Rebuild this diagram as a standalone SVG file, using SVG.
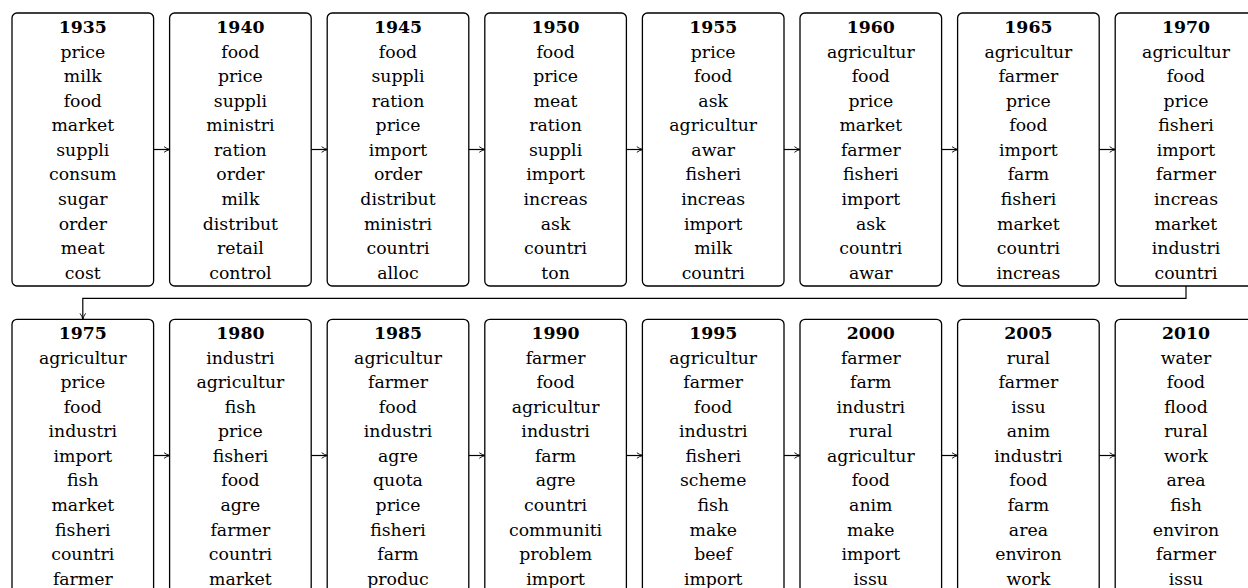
<svg xmlns="http://www.w3.org/2000/svg" width="1248" height="588" viewBox="0 0 1248 588">
<style>
.box{fill:#fff;stroke:#000;stroke-width:1.3}
.t{font-family:'DejaVu Serif',serif;font-size:17.3px;fill:#000;text-anchor:middle}
.h{font-weight:bold}
.c{fill:none;stroke:#000;stroke-width:1.2;marker-end:url(#ah)}
</style>
<defs>
<marker id="ah" viewBox="0 0 10 10" refX="9.5" refY="5" markerWidth="7" markerHeight="7" markerUnits="userSpaceOnUse" orient="auto">
<path d="M1,1 Q5,4 9.5,5 Q5,6 1,9" fill="none" stroke="#000" stroke-width="1.3"/>
</marker>
</defs>
<g id="connectors">
<path class="c" d="M153.6,149.5 H170"/>
<path class="c" d="M311.2,149.5 H327.6"/>
<path class="c" d="M468.8,149.5 H485.2"/>
<path class="c" d="M626.4,149.5 H642.8"/>
<path class="c" d="M784,149.5 H800.4"/>
<path class="c" d="M941.6,149.5 H958"/>
<path class="c" d="M1099.2,149.5 H1115.6"/>
<path class="c" d="M1186,286 V298.3 H82.8 V319.3"/>
<path class="c" d="M153.6,455.5 H170"/>
<path class="c" d="M311.2,455.5 H327.6"/>
<path class="c" d="M468.8,455.5 H485.2"/>
<path class="c" d="M626.4,455.5 H642.8"/>
<path class="c" d="M784,455.5 H800.4"/>
<path class="c" d="M941.6,455.5 H958"/>
<path class="c" d="M1099.2,455.5 H1115.6"/>
</g>
<g id="n1935"><rect class="box" x="12" y="13" width="141.6" height="273" rx="5"/><text class="t" y="33"><tspan class="h" x="82.8">1935</tspan><tspan x="82.8" dy="24.57">price</tspan><tspan x="82.8" dy="24.57">milk</tspan><tspan x="82.8" dy="24.57">food</tspan><tspan x="82.8" dy="24.57">market</tspan><tspan x="82.8" dy="24.57">suppli</tspan><tspan x="82.8" dy="24.57">consum</tspan><tspan x="82.8" dy="24.57">sugar</tspan><tspan x="82.8" dy="24.57">order</tspan><tspan x="82.8" dy="24.57">meat</tspan><tspan x="82.8" dy="24.57">cost</tspan></text></g>
<g id="n1940"><rect class="box" x="169.6" y="13" width="141.6" height="273" rx="5"/><text class="t" y="33"><tspan class="h" x="240.4">1940</tspan><tspan x="240.4" dy="24.57">food</tspan><tspan x="240.4" dy="24.57">price</tspan><tspan x="240.4" dy="24.57">suppli</tspan><tspan x="240.4" dy="24.57">ministri</tspan><tspan x="240.4" dy="24.57">ration</tspan><tspan x="240.4" dy="24.57">order</tspan><tspan x="240.4" dy="24.57">milk</tspan><tspan x="240.4" dy="24.57">distribut</tspan><tspan x="240.4" dy="24.57">retail</tspan><tspan x="240.4" dy="24.57">control</tspan></text></g>
<g id="n1945"><rect class="box" x="327.2" y="13" width="141.6" height="273" rx="5"/><text class="t" y="33"><tspan class="h" x="398">1945</tspan><tspan x="398" dy="24.57">food</tspan><tspan x="398" dy="24.57">suppli</tspan><tspan x="398" dy="24.57">ration</tspan><tspan x="398" dy="24.57">price</tspan><tspan x="398" dy="24.57">import</tspan><tspan x="398" dy="24.57">order</tspan><tspan x="398" dy="24.57">distribut</tspan><tspan x="398" dy="24.57">ministri</tspan><tspan x="398" dy="24.57">countri</tspan><tspan x="398" dy="24.57">alloc</tspan></text></g>
<g id="n1950"><rect class="box" x="484.8" y="13" width="141.6" height="273" rx="5"/><text class="t" y="33"><tspan class="h" x="555.6">1950</tspan><tspan x="555.6" dy="24.57">food</tspan><tspan x="555.6" dy="24.57">price</tspan><tspan x="555.6" dy="24.57">meat</tspan><tspan x="555.6" dy="24.57">ration</tspan><tspan x="555.6" dy="24.57">suppli</tspan><tspan x="555.6" dy="24.57">import</tspan><tspan x="555.6" dy="24.57">increas</tspan><tspan x="555.6" dy="24.57">ask</tspan><tspan x="555.6" dy="24.57">countri</tspan><tspan x="555.6" dy="24.57">ton</tspan></text></g>
<g id="n1955"><rect class="box" x="642.4" y="13" width="141.6" height="273" rx="5"/><text class="t" y="33"><tspan class="h" x="713.2">1955</tspan><tspan x="713.2" dy="24.57">price</tspan><tspan x="713.2" dy="24.57">food</tspan><tspan x="713.2" dy="24.57">ask</tspan><tspan x="713.2" dy="24.57">agricultur</tspan><tspan x="713.2" dy="24.57">awar</tspan><tspan x="713.2" dy="24.57">fisheri</tspan><tspan x="713.2" dy="24.57">increas</tspan><tspan x="713.2" dy="24.57">import</tspan><tspan x="713.2" dy="24.57">milk</tspan><tspan x="713.2" dy="24.57">countri</tspan></text></g>
<g id="n1960"><rect class="box" x="800" y="13" width="141.6" height="273" rx="5"/><text class="t" y="33"><tspan class="h" x="870.8">1960</tspan><tspan x="870.8" dy="24.57">agricultur</tspan><tspan x="870.8" dy="24.57">food</tspan><tspan x="870.8" dy="24.57">price</tspan><tspan x="870.8" dy="24.57">market</tspan><tspan x="870.8" dy="24.57">farmer</tspan><tspan x="870.8" dy="24.57">fisheri</tspan><tspan x="870.8" dy="24.57">import</tspan><tspan x="870.8" dy="24.57">ask</tspan><tspan x="870.8" dy="24.57">countri</tspan><tspan x="870.8" dy="24.57">awar</tspan></text></g>
<g id="n1965"><rect class="box" x="957.6" y="13" width="141.6" height="273" rx="5"/><text class="t" y="33"><tspan class="h" x="1028.4">1965</tspan><tspan x="1028.4" dy="24.57">agricultur</tspan><tspan x="1028.4" dy="24.57">farmer</tspan><tspan x="1028.4" dy="24.57">price</tspan><tspan x="1028.4" dy="24.57">food</tspan><tspan x="1028.4" dy="24.57">import</tspan><tspan x="1028.4" dy="24.57">farm</tspan><tspan x="1028.4" dy="24.57">fisheri</tspan><tspan x="1028.4" dy="24.57">market</tspan><tspan x="1028.4" dy="24.57">countri</tspan><tspan x="1028.4" dy="24.57">increas</tspan></text></g>
<g id="n1970"><rect class="box" x="1115.2" y="13" width="141.6" height="273" rx="5"/><text class="t" y="33"><tspan class="h" x="1186">1970</tspan><tspan x="1186" dy="24.57">agricultur</tspan><tspan x="1186" dy="24.57">food</tspan><tspan x="1186" dy="24.57">price</tspan><tspan x="1186" dy="24.57">fisheri</tspan><tspan x="1186" dy="24.57">import</tspan><tspan x="1186" dy="24.57">farmer</tspan><tspan x="1186" dy="24.57">increas</tspan><tspan x="1186" dy="24.57">market</tspan><tspan x="1186" dy="24.57">industri</tspan><tspan x="1186" dy="24.57">countri</tspan></text></g>
<g id="n1975"><rect class="box" x="12" y="319.3" width="141.6" height="273" rx="5"/><text class="t" y="339"><tspan class="h" x="82.8">1975</tspan><tspan x="82.8" dy="24.57">agricultur</tspan><tspan x="82.8" dy="24.57">price</tspan><tspan x="82.8" dy="24.57">food</tspan><tspan x="82.8" dy="24.57">industri</tspan><tspan x="82.8" dy="24.57">import</tspan><tspan x="82.8" dy="24.57">fish</tspan><tspan x="82.8" dy="24.57">market</tspan><tspan x="82.8" dy="24.57">fisheri</tspan><tspan x="82.8" dy="24.57">countri</tspan><tspan x="82.8" dy="24.57">farmer</tspan></text></g>
<g id="n1980"><rect class="box" x="169.6" y="319.3" width="141.6" height="273" rx="5"/><text class="t" y="339"><tspan class="h" x="240.4">1980</tspan><tspan x="240.4" dy="24.57">industri</tspan><tspan x="240.4" dy="24.57">agricultur</tspan><tspan x="240.4" dy="24.57">fish</tspan><tspan x="240.4" dy="24.57">price</tspan><tspan x="240.4" dy="24.57">fisheri</tspan><tspan x="240.4" dy="24.57">food</tspan><tspan x="240.4" dy="24.57">agre</tspan><tspan x="240.4" dy="24.57">farmer</tspan><tspan x="240.4" dy="24.57">countri</tspan><tspan x="240.4" dy="24.57">market</tspan></text></g>
<g id="n1985"><rect class="box" x="327.2" y="319.3" width="141.6" height="273" rx="5"/><text class="t" y="339"><tspan class="h" x="398">1985</tspan><tspan x="398" dy="24.57">agricultur</tspan><tspan x="398" dy="24.57">farmer</tspan><tspan x="398" dy="24.57">food</tspan><tspan x="398" dy="24.57">industri</tspan><tspan x="398" dy="24.57">agre</tspan><tspan x="398" dy="24.57">quota</tspan><tspan x="398" dy="24.57">price</tspan><tspan x="398" dy="24.57">fisheri</tspan><tspan x="398" dy="24.57">farm</tspan><tspan x="398" dy="24.57">produc</tspan></text></g>
<g id="n1990"><rect class="box" x="484.8" y="319.3" width="141.6" height="273" rx="5"/><text class="t" y="339"><tspan class="h" x="555.6">1990</tspan><tspan x="555.6" dy="24.57">farmer</tspan><tspan x="555.6" dy="24.57">food</tspan><tspan x="555.6" dy="24.57">agricultur</tspan><tspan x="555.6" dy="24.57">industri</tspan><tspan x="555.6" dy="24.57">farm</tspan><tspan x="555.6" dy="24.57">agre</tspan><tspan x="555.6" dy="24.57">countri</tspan><tspan x="555.6" dy="24.57">communiti</tspan><tspan x="555.6" dy="24.57">problem</tspan><tspan x="555.6" dy="24.57">import</tspan></text></g>
<g id="n1995"><rect class="box" x="642.4" y="319.3" width="141.6" height="273" rx="5"/><text class="t" y="339"><tspan class="h" x="713.2">1995</tspan><tspan x="713.2" dy="24.57">agricultur</tspan><tspan x="713.2" dy="24.57">farmer</tspan><tspan x="713.2" dy="24.57">food</tspan><tspan x="713.2" dy="24.57">industri</tspan><tspan x="713.2" dy="24.57">fisheri</tspan><tspan x="713.2" dy="24.57">scheme</tspan><tspan x="713.2" dy="24.57">fish</tspan><tspan x="713.2" dy="24.57">make</tspan><tspan x="713.2" dy="24.57">beef</tspan><tspan x="713.2" dy="24.57">import</tspan></text></g>
<g id="n2000"><rect class="box" x="800" y="319.3" width="141.6" height="273" rx="5"/><text class="t" y="339"><tspan class="h" x="870.8">2000</tspan><tspan x="870.8" dy="24.57">farmer</tspan><tspan x="870.8" dy="24.57">farm</tspan><tspan x="870.8" dy="24.57">industri</tspan><tspan x="870.8" dy="24.57">rural</tspan><tspan x="870.8" dy="24.57">agricultur</tspan><tspan x="870.8" dy="24.57">food</tspan><tspan x="870.8" dy="24.57">anim</tspan><tspan x="870.8" dy="24.57">make</tspan><tspan x="870.8" dy="24.57">import</tspan><tspan x="870.8" dy="24.57">issu</tspan></text></g>
<g id="n2005"><rect class="box" x="957.6" y="319.3" width="141.6" height="273" rx="5"/><text class="t" y="339"><tspan class="h" x="1028.4">2005</tspan><tspan x="1028.4" dy="24.57">rural</tspan><tspan x="1028.4" dy="24.57">farmer</tspan><tspan x="1028.4" dy="24.57">issu</tspan><tspan x="1028.4" dy="24.57">anim</tspan><tspan x="1028.4" dy="24.57">industri</tspan><tspan x="1028.4" dy="24.57">food</tspan><tspan x="1028.4" dy="24.57">farm</tspan><tspan x="1028.4" dy="24.57">area</tspan><tspan x="1028.4" dy="24.57">environ</tspan><tspan x="1028.4" dy="24.57">work</tspan></text></g>
<g id="n2010"><rect class="box" x="1115.2" y="319.3" width="141.6" height="273" rx="5"/><text class="t" y="339"><tspan class="h" x="1186">2010</tspan><tspan x="1186" dy="24.57">water</tspan><tspan x="1186" dy="24.57">food</tspan><tspan x="1186" dy="24.57">flood</tspan><tspan x="1186" dy="24.57">rural</tspan><tspan x="1186" dy="24.57">work</tspan><tspan x="1186" dy="24.57">area</tspan><tspan x="1186" dy="24.57">fish</tspan><tspan x="1186" dy="24.57">environ</tspan><tspan x="1186" dy="24.57">farmer</tspan><tspan x="1186" dy="24.57">issu</tspan></text></g>
</svg>
